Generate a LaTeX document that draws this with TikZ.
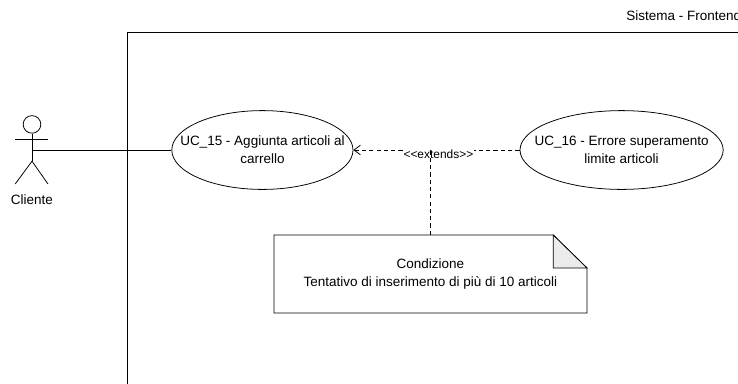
\documentclass[tikz,border=0pt]{standalone}
\usepackage{fontspec}
\setmainfont{Liberation Sans}
\usetikzlibrary{shapes.geometric,arrows.meta}

\begin{document}
\begin{tikzpicture}[line width=0.55pt,font=\fontsize{9.6}{12.7}\selectfont]
	\tikzstyle{usecase}=[ellipse,draw=black,fill=white,inner sep=-0.6cm,align=center,minimum height=1.97cm]
	\tikzstyle{dashline}=[dashed,dash pattern=on 3pt off 2.2pt]
	\useasboundingbox (0,0) rectangle (18.45,-9.575);
	\clip (0,0) rectangle (18.45,-9.575);
	% system boundary
	\coordinate (sysright) at (18.6,-0.8);
	\coordinate (sysleft) at (3.18,-0.8);
	\coordinate (sysbottom) at (3.18,-9.7);
	\draw (sysright) -- (sysleft) -- (sysbottom);
	\node[anchor=west,inner sep=0pt] (sistema) at (15.65,-0.38) {Sistema - Frontend};
	% actor
	\node[circle,draw=black,inner sep=0pt,minimum size=0.44cm] (testa) at (0.8,-3.11) {};
	\coordinate (anca) at (0.8,-4.03);
	\coordinate (busto) at (0.8,-3.75);
	\coordinate (manosx) at (0.38,-3.48);
	\coordinate (manodx) at (1.2,-3.48);
	\coordinate (piedesx) at (0.38,-4.6);
	\coordinate (piededx) at (1.2,-4.6);
	\draw (testa) -- (anca);
	\draw (manosx) -- (manodx);
	\draw (piedesx) -- (anca) -- (piededx);
	\node (cliente) at (0.8,-4.98) {Cliente};
	% use cases
	\node[usecase,minimum width=4.53cm] (uc15) at (6.56,-3.75) {UC\_15 - Aggiunta articoli al\\carrello};
	\node[usecase,minimum width=5.08cm] (uc16) at (15.54,-3.75) {UC\_16 - Errore superamento\\limite articoli};
	\draw (busto) -- (uc15);
	% extends
	\draw[dashline,-{Straight Barb[length=1.6mm,width=2.4mm]}] (uc16) -- (uc15);
	\node[fill=white,inner sep=0.5pt,font=\fontsize{8.5}{9}\selectfont] (extends) at (10.96,-3.85) {<{}<extends>{}>};
	% note
	\node[minimum width=7.825cm,minimum height=1.95cm,inner sep=0pt,align=center] (nota) at (10.76,-6.85) {Condizione\\Tentativo di inserimento di più di 10 articoli};
	\draw (6.85,-5.875) -- (13.83,-5.875) -- (14.675,-6.7) -- (14.675,-7.825) -- (6.85,-7.825) -- cycle;
	\draw[fill=black!8] (13.83,-5.875) -- (14.675,-6.7) -- (13.83,-6.7) -- cycle;
	\coordinate (attacco) at (10.76,-3.75);
	\draw[dashline] (nota) ++(0,0.975) -- (attacco);
\end{tikzpicture}
\end{document}
